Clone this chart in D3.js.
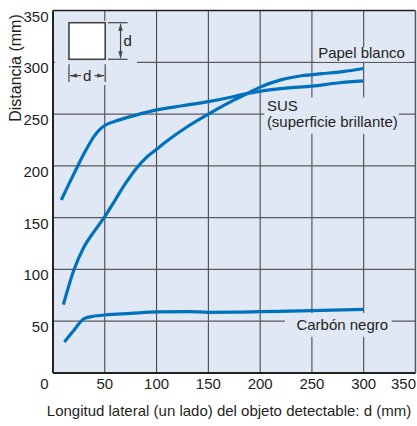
<!DOCTYPE html>
<html><head><meta charset="utf-8">
<script src="https://cdn.jsdelivr.net/npm/d3@7"></script>
<style>
body{margin:0;background:#fff}
text{font-family:"Liberation Sans",Arial,Helvetica,sans-serif;fill:#231f20}
</style>
</head><body>
<svg id="c" width="417" height="426"></svg>
<script>
// ---- data ----
const xTicks = [0, 50, 100, 150, 200, 250, 300, 350];
const yTicks = [50, 100, 150, 200, 250, 300, 350];
const xTickLabels = ["0", "50", "100", "150", "200", "250", "300", "350"];
const yTickLabels = ["50", "100", "150", "200", "250", "300", "350"];

// steep curve, ends on top (Papel blanco)
const papelX = [10, 20, 30, 40, 50, 60, 70, 80, 90, 100, 110, 130, 150, 170, 188, 200, 220, 240, 260, 280, 300];
const papelY = [66, 99, 122, 137, 151, 167, 183, 197, 208, 216, 224, 238, 250, 261, 270, 276, 283, 287, 289, 291, 294];
// flatter curve (SUS)
const susX = [8, 20, 30, 40, 45, 50, 60, 80, 100, 125, 150, 175, 188, 200, 225, 250, 275, 300];
const susY = [167, 192, 212, 229, 235, 239, 243, 249, 254, 258, 262, 267, 270, 272, 275, 277, 280, 282];
// black carbon
const carbonX = [11, 20, 30, 40, 50, 75, 100, 130, 150, 175, 200, 250, 300];
const carbonY = [30, 41, 52.5, 55, 56, 57.5, 59, 59.3, 58.6, 58.7, 59.2, 60.2, 61.4];

const labels = ["Papel blanco", "SUS", "(superficie brillante)", "Carbón negro"];
const xTitle = "Longitud lateral (un lado) del objeto detectable: d (mm)";
const yTitle = "Distancia (mm)";

// ---- chart ----
const svg = d3.select("#c");
const L = 53, R = 415.5, T = 10.5, B = 373;
const x = d3.scaleLinear().domain([0, 350]).range([L, R]);
const y = d3.scaleLinear().domain([0, 350]).range([B, T]);
const bg = "#e1e8f5";
const lineCol = "#0071bc";

svg.append("rect").attr("x", L).attr("y", T).attr("width", R - L).attr("height", B - T).attr("fill", bg);

// gridlines
const grid = svg.append("g");
grid.selectAll(".vg").data(xTicks.filter(d => d > 0 && d < 350)).join("line")
  .attr("x1", d => x(d)).attr("x2", d => x(d)).attr("y1", T).attr("y2", B)
  .attr("stroke", "#3a3a3a").attr("stroke-width", 1);
grid.selectAll(".hg").data(yTicks.filter(d => d < 350)).join("line")
  .attr("y1", d => y(d)).attr("y2", d => y(d)).attr("x1", L).attr("x2", R)
  .attr("stroke", "#5a5a5a").attr("stroke-width", 1.3);

// cover boxes (labels / inset)
const cover = (x0, y0, x1, y1) => svg.append("rect")
  .attr("x", x(x0)).attr("y", y(y0)).attr("width", x(x1) - x(x0)).attr("height", y(y1) - y(y0)).attr("fill", bg);
cover(2, 340, 81, 278);
cover(253, 314.5, 344, 300.5);
cover(204, 266, 334, 231);
cover(224, 58, 327, 35);

// curves
const line = d3.line().x(d => x(d[0])).y(d => y(d[1])).curve(d3.curveMonotoneX);
const series = [
  d3.zip(papelX, papelY),
  d3.zip(susX, susY),
  d3.zip(carbonX, carbonY)
];
svg.selectAll(".curve").data(series).join("path")
  .attr("d", line).attr("fill", "none").attr("stroke", lineCol)
  .attr("stroke-width", 3.2).attr("stroke-linecap", "butt").attr("stroke-linejoin", "round");

// borders
svg.append("line").attr("x1", L).attr("x2", R).attr("y1", T).attr("y2", T).attr("stroke", "#222").attr("stroke-width", 1.5);
svg.append("line").attr("x1", R).attr("x2", R).attr("y1", T).attr("y2", B).attr("stroke", "#555").attr("stroke-width", 1.5);
svg.append("line").attr("x1", L).attr("x2", R).attr("y1", B).attr("y2", B).attr("stroke", "#222").attr("stroke-width", 2);
svg.append("line").attr("x1", L).attr("x2", L).attr("y1", T).attr("y2", B).attr("stroke", "#222").attr("stroke-width", 2);

// tick labels
const last = xTicks.length - 1;
svg.selectAll(".xl").data(xTicks).join("text")
  .attr("x", (d, i) => i === 0 ? x(d) - 8.5 : (i === last ? 416 : x(d))).attr("y", 388.5)
  .attr("text-anchor", (d, i) => i === last ? "end" : "middle")
  .attr("font-size", 15).text((d, i) => xTickLabels[i]);
svg.selectAll(".yl").data(yTicks).join("text")
  .attr("x", 48.5).attr("y", d => y(d) + 11)
  .attr("text-anchor", "end").attr("font-size", 15).text((d, i) => yTickLabels[i]);

// titles
svg.append("text").attr("x", 229).attr("y", 416).attr("text-anchor", "middle").attr("font-size", 15).text(xTitle);
svg.append("text").attr("transform", "translate(21,68) rotate(-90)").attr("text-anchor", "middle").attr("font-size", 16).text(yTitle);

// series labels
svg.append("text").attr("x", x(256)).attr("y", 58).attr("font-size", 15).text(labels[0]);
svg.append("text").attr("x", x(206.5)).attr("y", 111).attr("font-size", 15).text(labels[1]);
svg.append("text").attr("x", x(206.5)).attr("y", 127).attr("font-size", 15).text(labels[2]);
svg.append("text").attr("x", x(235)).attr("y", 329.5).attr("font-size", 15).text(labels[3]);

// inset diagram
const ink = "#444";
const g = svg.append("g").attr("stroke", ink).attr("fill", "none").attr("stroke-width", 1.2);
const sx0 = x(15.4), sx1 = x(50.4), sy0 = y(338.2), sy1 = y(302.9);
g.append("rect").attr("x", sx0).attr("y", sy0).attr("width", sx1 - sx0).attr("height", sy1 - sy0)
  .attr("fill", "#fff").attr("stroke-width", 1.6);
// vertical dimension
const vx = x(65.2);
g.append("line").attr("x1", x(53)).attr("x2", x(72)).attr("y1", sy0).attr("y2", sy0);
g.append("line").attr("x1", x(53)).attr("x2", x(72)).attr("y1", sy1).attr("y2", sy1);
g.append("line").attr("x1", vx).attr("x2", vx).attr("y1", sy0 + 1).attr("y2", sy1 - 1);
const tri = (px, py, dir) => {
  const s = 3.5, h = 7;
  let pts;
  if (dir === 'u') pts = [[px, py], [px - s/1.6, py + h], [px + s/1.6, py + h]];
  if (dir === 'd') pts = [[px, py], [px - s/1.6, py - h], [px + s/1.6, py - h]];
  if (dir === 'l') pts = [[px, py], [px + h, py - s/1.6], [px + h, py + s/1.6]];
  if (dir === 'r') pts = [[px, py], [px - h, py - s/1.6], [px - h, py + s/1.6]];
  svg.append("path").attr("d", "M" + pts.join("L") + "Z").attr("fill", ink);
};
tri(vx, sy0 + 1, 'u');
tri(vx, sy1 - 1, 'd');
svg.append("text").attr("x", vx + 3).attr("y", (sy0 + sy1) / 2 + 5).attr("font-size", 15).text("d");
// horizontal dimension
const hy = y(287.1);
g.append("line").attr("x1", sx0).attr("x2", sx0).attr("y1", y(298)).attr("y2", y(281));
g.append("line").attr("x1", sx1).attr("x2", sx1).attr("y1", y(298)).attr("y2", y(281));
g.append("line").attr("x1", sx0 + 1).attr("x2", x(27)).attr("y1", hy).attr("y2", hy);
g.append("line").attr("x1", x(40)).attr("x2", sx1 - 1).attr("y1", hy).attr("y2", hy);
tri(sx0 + 1, hy, 'l');
tri(sx1 - 1, hy, 'r');
svg.append("text").attr("x", (sx0 + sx1) / 2).attr("y", hy + 5).attr("text-anchor", "middle").attr("font-size", 15).text("d");
</script>
</body></html>
